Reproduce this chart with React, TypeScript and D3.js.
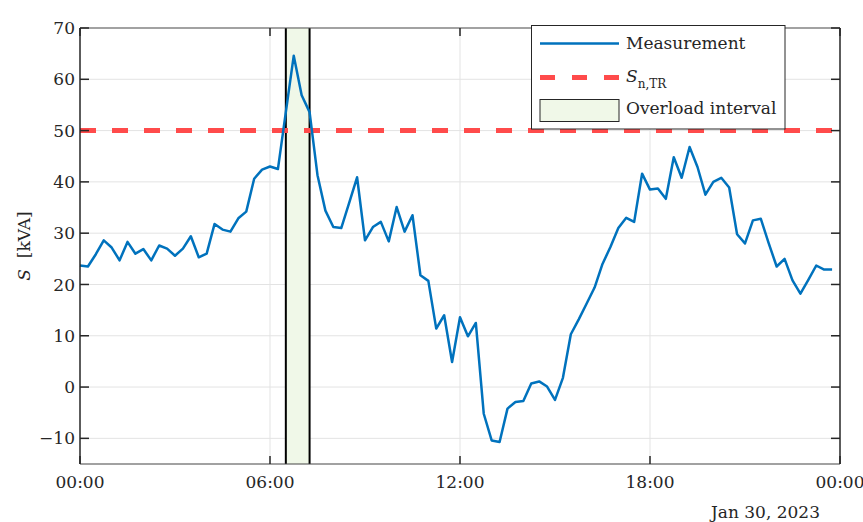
import React, { useEffect, useRef } from 'react';
import * as d3 from 'd3';

// apparent power, 15-minute samples starting at 00:00
const measurement = [
  23.7, 23.5, 25.9, 28.6, 27.2, 24.7, 28.3, 26.0, 26.9, 24.7, 27.6, 27.0,
  25.6, 27.0, 29.4, 25.3, 26.0, 31.8, 30.7, 30.3, 32.9, 34.2, 40.6, 42.4,
  43.0, 42.5, 53.6, 64.6, 56.9, 53.6, 41.3, 34.4, 31.2, 31.0, 35.9, 40.9,
  28.6, 31.2, 32.2, 28.4, 35.1, 30.3, 33.5, 21.8, 20.7, 11.4, 14.0, 4.9,
  13.6, 9.9, 12.5, -5.2, -10.4, -10.7, -4.2, -2.9, -2.7, 0.7, 1.1, 0.1,
  -2.5, 1.8, 10.3, 13.2, 16.3, 19.4, 24.0, 27.3, 31.0, 33.0, 32.2, 41.6,
  38.5, 38.7, 36.7, 44.8, 40.8, 46.8, 42.9, 37.5, 40.0, 40.8, 38.9, 29.8,
  28.0, 32.5, 32.8, 28.0, 23.5, 25.0, 20.8, 18.2, 20.9, 23.7, 22.9, 22.9
];
const ratedPower = 50;
const overload = [6.5, 7.25];
const xTicks = [0, 6, 12, 18, 24];
const xTickLabels = ['00:00', '06:00', '12:00', '18:00', '00:00'];
const yTicks = [-10, 0, 10, 20, 30, 40, 50, 60, 70];

const FONT = '"DejaVu Serif", serif';
const FS = '17px';
const TEXT = '#262626';

const App = () => {
  const svgRef = useRef<SVGSVGElement>(null);

  useEffect(() => {
    const svg = d3.select(svgRef.current);
    svg.selectAll('*').remove();

    const left = 80, right = 840, top = 28, bottom = 464;
    const x = d3.scaleLinear().domain([0, 24]).range([left, right]);
    const y = d3.scaleLinear().domain([-15, 70]).range([bottom, top]);

    const g = svg.append('g');

    // grid
    g.selectAll('line.hgrid')
      .data(yTicks)
      .enter()
      .append('line')
      .attr('x1', left).attr('x2', right)
      .attr('y1', d => y(d)).attr('y2', d => y(d))
      .attr('stroke', '#e3e3e3').attr('stroke-width', 1);
    g.selectAll('line.vgrid')
      .data(xTicks.slice(1, -1))
      .enter()
      .append('line')
      .attr('x1', d => x(d)).attr('x2', d => x(d))
      .attr('y1', top).attr('y2', bottom)
      .attr('stroke', '#e3e3e3').attr('stroke-width', 1);

    // overload interval
    g.append('rect')
      .attr('x', x(overload[0]))
      .attr('y', top)
      .attr('width', x(overload[1]) - x(overload[0]))
      .attr('height', bottom - top)
      .attr('fill', '#f0f8e8');
    g.selectAll('line.ov')
      .data(overload)
      .enter()
      .append('line')
      .attr('x1', d => x(d)).attr('x2', d => x(d))
      .attr('y1', top).attr('y2', bottom)
      .attr('stroke', '#000').attr('stroke-width', 2);

    // rated power
    g.append('line')
      .attr('x1', left).attr('x2', right)
      .attr('y1', y(ratedPower)).attr('y2', y(ratedPower))
      .attr('stroke', '#ff4b4b').attr('stroke-width', 5)
      .attr('stroke-dasharray', '16 16');

    // measurement
    const line = d3.line<number>()
      .x((d, i) => x(i * 0.25))
      .y(d => y(d));
    g.append('path')
      .datum(measurement)
      .attr('d', line)
      .attr('fill', 'none')
      .attr('stroke', '#0072bd')
      .attr('stroke-width', 2.5)
      .attr('stroke-linejoin', 'round');

    // axes box
    g.append('line').attr('x1', left).attr('x2', right).attr('y1', top).attr('y2', top)
      .attr('stroke', '#555').attr('stroke-width', 1.2);
    g.append('line').attr('x1', left).attr('x2', right).attr('y1', bottom).attr('y2', bottom)
      .attr('stroke', '#444').attr('stroke-width', 1.2);
    g.append('line').attr('x1', left).attr('x2', left).attr('y1', top).attr('y2', bottom)
      .attr('stroke', TEXT).attr('stroke-width', 1.5);
    g.append('line').attr('x1', right).attr('x2', right).attr('y1', top).attr('y2', bottom)
      .attr('stroke', TEXT).attr('stroke-width', 1.5);

    // y ticks (left and right, inward)
    yTicks.forEach(t => {
      g.append('line').attr('x1', left).attr('x2', left + 9).attr('y1', y(t)).attr('y2', y(t))
        .attr('stroke', TEXT).attr('stroke-width', 1.5);
      g.append('line').attr('x1', right).attr('x2', right - 9).attr('y1', y(t)).attr('y2', y(t))
        .attr('stroke', TEXT).attr('stroke-width', 1.5);
      g.append('text')
        .attr('x', left - 5)
        .attr('y', y(t))
        .attr('dy', '0.36em')
        .attr('text-anchor', 'end')
        .style('font-family', FONT).style('font-size', FS).attr('fill', TEXT)
        .text(t < 0 ? '\u2212' + Math.abs(t) : String(t));
    });

    // x ticks (bottom and top, inward)
    xTicks.forEach((t, i) => {
      g.append('line').attr('x1', x(t)).attr('x2', x(t)).attr('y1', bottom).attr('y2', bottom - 8)
        .attr('stroke', TEXT).attr('stroke-width', 1.5);
      g.append('line').attr('x1', x(t)).attr('x2', x(t)).attr('y1', top).attr('y2', top + 8)
        .attr('stroke', TEXT).attr('stroke-width', 1.5);
      g.append('text')
        .attr('x', x(t))
        .attr('y', 488)
        .attr('text-anchor', 'middle')
        .style('font-family', FONT).style('font-size', FS).attr('fill', TEXT)
        .text(xTickLabels[i]);
    });

    g.append('text')
      .attr('x', 820).attr('y', 518)
      .attr('text-anchor', 'end')
      .style('font-family', FONT).style('font-size', FS).attr('fill', TEXT)
      .text('Jan 30, 2023');

    // y label
    const yl = g.append('text')
      .attr('transform', `translate(30,${(top + bottom) / 2}) rotate(-90)`)
      .attr('text-anchor', 'middle')
      .style('font-family', FONT).style('font-size', FS).attr('fill', TEXT);
    yl.append('tspan').style('font-style', 'italic').text('S');
    yl.append('tspan').text('\u00a0 [kVA]');

    // legend
    const lg = g.append('g');
    lg.append('rect')
      .attr('x', 531.5).attr('y', 25.5).attr('width', 253.5).attr('height', 103.5)
      .attr('fill', '#fff').attr('stroke', TEXT).attr('stroke-width', 1);
    lg.append('line').attr('x1', 540).attr('x2', 619).attr('y1', 43.5).attr('y2', 43.5)
      .attr('stroke', '#0072bd').attr('stroke-width', 2.5);
    lg.append('text').attr('x', 626).attr('y', 49)
      .style('font-family', FONT).style('font-size', FS).attr('fill', TEXT)
      .text('Measurement');
    lg.append('line').attr('x1', 540).attr('x2', 619).attr('y1', 77.5).attr('y2', 77.5)
      .attr('stroke', '#ff4b4b').attr('stroke-width', 5).attr('stroke-dasharray', '15 17');
    const st = lg.append('text').attr('x', 626).attr('y', 82)
      .style('font-family', FONT).style('font-size', FS).attr('fill', TEXT);
    st.append('tspan').style('font-style', 'italic').text('S');
    st.append('tspan').attr('dy', 6).style('font-size', '12px').text('n,TR');
    lg.append('rect')
      .attr('x', 540).attr('y', 99.5).attr('width', 79).attr('height', 22)
      .attr('fill', '#f0f8e8').attr('stroke', TEXT).attr('stroke-width', 1);
    lg.append('text').attr('x', 626).attr('y', 113.5)
      .style('font-family', FONT).style('font-size', FS).attr('fill', TEXT)
      .text('Overload interval');
  }, []);

  return (
    <svg
      ref={svgRef}
      width={863}
      height={522}
      style={{ position: 'absolute', left: 0, top: 0, background: '#fff' }}
    />
  );
};

export default App;
